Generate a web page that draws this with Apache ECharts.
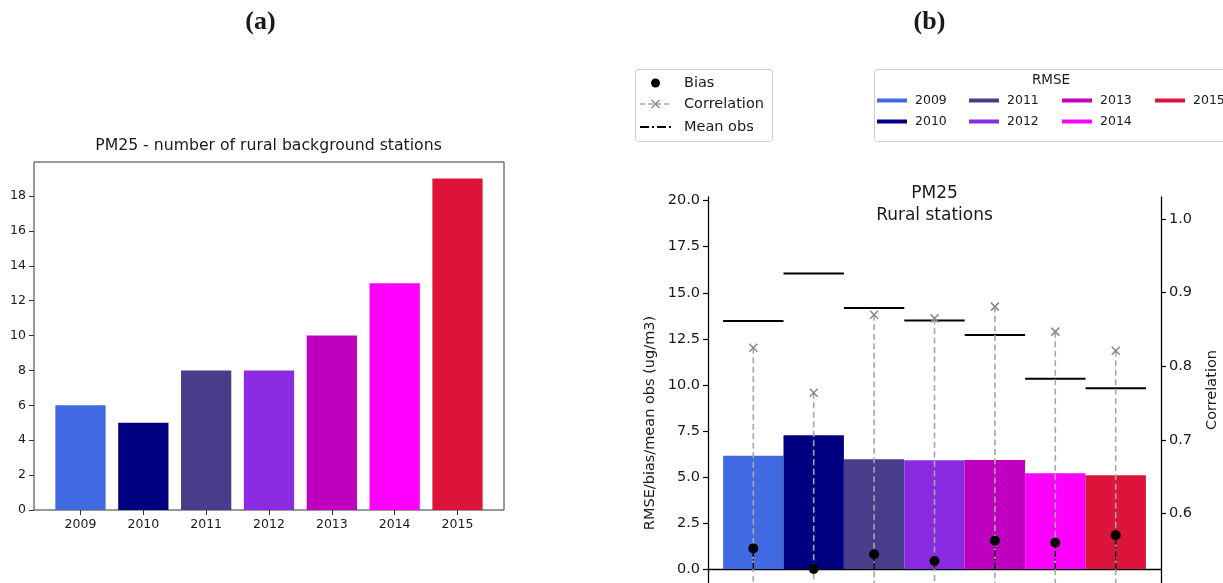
<!DOCTYPE html>
<html>
<head>
<meta charset="utf-8">
<script src="https://cdn.jsdelivr.net/npm/echarts@6/dist/echarts.min.js"></script>
<style>
  html, body { margin: 0; padding: 0; background: #fff; }
  #chart { width: 1223px; height: 583px; }
</style>
</head>
<body>
<div id="chart"></div>
<script>
// ---- data ----
const years = ['2009', '2010', '2011', '2012', '2013', '2014', '2015'];
const yearColors = ['#4169E1', '#000080', '#483D8B', '#8A2BE2', '#BF00BF', '#FF00FF', '#DC143C'];
const stationCounts = [6, 5, 8, 8, 10, 13, 19];
const rmse = [6.15, 7.26, 5.96, 5.90, 5.92, 5.20, 5.09];
const bias = [1.12, 0.0, 0.80, 0.43, 1.54, 1.43, 1.83];
const meanObs = [13.47, 16.04, 14.17, 13.50, 12.71, 10.33, 9.81];
const correlation = [0.825, 0.764, 0.870, 0.865, 0.881, 0.847, 0.821];
const countTicks = [0, 2, 4, 6, 8, 10, 12, 14, 16, 18];
const statTicks = [0, 2.5, 5, 7.5, 10, 12.5, 15, 17.5, 20];
const corrTicks = [0.6, 0.7, 0.8, 0.9, 1.0];
const yearPositions = years.map((_, i) => i);

// axis extents
const COUNT_MAX = 19.95;
const STAT_MIN = -4.344, STAT_MAX = 20.2;
const CORR_MIN = 0.4156, CORR_MAX = 1.03;

const FONT = '"DejaVu Sans", sans-serif';
const INK = '#1a1a1a';

const chart = echarts.init(document.getElementById('chart'));

function bandRect(api, i, v, half) {
  const p0 = api.coord([i - half, v]);
  const p1 = api.coord([i + half, 0]);
  return { x: p0[0], y: Math.min(p0[1], p1[1]), width: p1[0] - p0[0], height: Math.abs(p1[1] - p0[1]) };
}

// legend boxes drawn as graphics
function legendElements() {
  const els = [];
  // left legend: markers
  els.push({ type: 'rect', shape: { x: 635.5, y: 69.5, width: 137, height: 72, r: 3 },
    style: { fill: '#fff', stroke: '#cccccc', lineWidth: 1 } });
  const lx0 = 640, lx1 = 671, lmid = 655.5, tx = 684;
  const rowY = [83, 104, 127];
  els.push({ type: 'circle', shape: { cx: lmid, cy: rowY[0], r: 4.5 }, style: { fill: '#000' } });
  els.push({ type: 'line', shape: { x1: lx0, y1: rowY[1], x2: lx1, y2: rowY[1] },
    style: { stroke: '#a6a6a6', lineWidth: 1.5, lineDash: [5, 3] } });
  els.push({ type: 'line', shape: { x1: lmid - 4, y1: rowY[1] - 4, x2: lmid + 4, y2: rowY[1] + 4 },
    style: { stroke: '#888', lineWidth: 1.5 } });
  els.push({ type: 'line', shape: { x1: lmid - 4, y1: rowY[1] + 4, x2: lmid + 4, y2: rowY[1] - 4 },
    style: { stroke: '#888', lineWidth: 1.5 } });
  els.push({ type: 'line', shape: { x1: lx0, y1: rowY[2], x2: lx1, y2: rowY[2] },
    style: { stroke: '#000', lineWidth: 2, lineDash: [9, 3, 2, 3] } });
  ['Bias', 'Correlation', 'Mean obs'].forEach((t, k) => {
    els.push({ type: 'text', x: tx, y: rowY[k],
      style: { text: t, fill: INK, fontFamily: FONT, fontSize: 14.5, align: 'left', verticalAlign: 'middle' } });
  });

  // right legend: RMSE per year
  els.push({ type: 'rect', shape: { x: 874.5, y: 69.5, width: 380, height: 72, r: 3 },
    style: { fill: '#fff', stroke: '#cccccc', lineWidth: 1 } });
  els.push({ type: 'text', x: 1051, y: 80,
    style: { text: 'RMSE', fill: INK, fontFamily: FONT, fontSize: 13.5, align: 'center', verticalAlign: 'middle' } });
  const colX = [877, 969, 1062, 1155];
  const rY = [100.5, 121.5];
  years.forEach((y, i) => {
    const c = Math.floor(i / 2), r = i % 2;
    els.push({ type: 'line', shape: { x1: colX[c], y1: rY[r], x2: colX[c] + 30, y2: rY[r] },
      style: { stroke: yearColors[i], lineWidth: 4 } });
    els.push({ type: 'text', x: colX[c] + 38, y: rY[r],
      style: { text: y, fill: INK, fontFamily: FONT, fontSize: 12.5, align: 'left', verticalAlign: 'middle' } });
  });
  return els;
}

function textEl(x, y, text, font, rotation) {
  return { type: 'text', x, y, rotation: rotation || 0,
    style: { text, fill: INK, font, align: 'center', verticalAlign: 'middle' } };
}

const option = {
  animation: false,
  backgroundColor: '#fff',
  grid: [
    { left: 34, top: 162, width: 470, height: 348, show: true, borderColor: '#333', borderWidth: 1,
      backgroundColor: 'rgba(0,0,0,0)', outerBoundsMode: 'none', containLabel: false },
    { left: 708, top: 197, width: 453, height: 452, outerBoundsMode: 'none', containLabel: false }
  ],
  xAxis: [
    { gridIndex: 0, type: 'value', min: -0.74, max: 6.74,
      axisLine: { show: false }, splitLine: { show: false },
      axisTick: { show: true, length: 5, customValues: yearPositions, lineStyle: { color: '#333' } },
      axisLabel: { customValues: yearPositions, formatter: v => years[Math.round(v)],
        color: INK, fontFamily: FONT, fontSize: 12.5, margin: 8 } },
    { gridIndex: 1, type: 'value', min: -0.75, max: 6.75,
      axisLine: { show: true, onZero: true, onZeroAxisIndex: 1, lineStyle: { color: '#000', width: 1.3 } },
      axisTick: { show: false }, axisLabel: { show: false }, splitLine: { show: false } }
  ],
  yAxis: [
    { gridIndex: 0, type: 'value', min: 0, max: COUNT_MAX,
      axisLine: { show: false, onZero: false }, splitLine: { show: false },
      axisTick: { show: true, length: 5, customValues: countTicks, lineStyle: { color: '#333' } },
      axisLabel: { customValues: countTicks, color: INK, fontFamily: FONT, fontSize: 12.5, margin: 8 } },
    { gridIndex: 1, type: 'value', position: 'left', min: STAT_MIN, max: STAT_MAX,
      axisLine: { show: true, onZero: false, lineStyle: { color: '#000', width: 1.3 } }, splitLine: { show: false },
      axisTick: { show: true, length: 5, customValues: statTicks, lineStyle: { color: '#000', width: 1.2 } },
      axisLabel: { customValues: statTicks, formatter: v => v.toFixed(1),
        color: INK, fontFamily: FONT, fontSize: 14.5, margin: 8 } },
    { gridIndex: 1, type: 'value', position: 'right', min: CORR_MIN, max: CORR_MAX,
      axisLine: { show: true, onZero: false, lineStyle: { color: '#000', width: 1.3 } }, splitLine: { show: false },
      axisTick: { show: true, length: 5, customValues: corrTicks, lineStyle: { color: '#000', width: 1.2 } },
      axisLabel: { customValues: corrTicks, formatter: v => v.toFixed(1),
        color: INK, fontFamily: FONT, fontSize: 14.5, margin: 8 } }
  ],
  series: [
    // (a) station counts
    { type: 'custom', xAxisIndex: 0, yAxisIndex: 0,
      data: stationCounts.map((v, i) => [i, v]),
      renderItem: (params, api) => ({ type: 'rect', shape: bandRect(api, api.value(0), api.value(1), 0.4),
        style: { fill: yearColors[params.dataIndex] } }) },
    // (b) RMSE bars
    { type: 'custom', xAxisIndex: 1, yAxisIndex: 1,
      data: rmse.map((v, i) => [i, v]),
      renderItem: (params, api) => ({ type: 'rect', shape: bandRect(api, api.value(0), api.value(1), 0.5),
        style: { fill: yearColors[params.dataIndex] } }) },
    // (b) mean observations
    { type: 'custom', xAxisIndex: 1, yAxisIndex: 1,
      data: meanObs.map((v, i) => [i, v]),
      renderItem: (params, api) => {
        const i = api.value(0), m = api.value(1);
        const a = api.coord([i - 0.5, m]), b = api.coord([i + 0.5, m]);
        return { type: 'line', shape: { x1: a[0], y1: a[1], x2: b[0], y2: b[1] },
          style: { stroke: '#000', lineWidth: 2 } };
      } },
    // (b) correlation stems with x markers
    { type: 'custom', xAxisIndex: 1, yAxisIndex: 2,
      data: correlation.map((v, i) => [i, v]),
      renderItem: (params, api) => {
        const i = api.value(0), c = api.value(1);
        const base = api.coord([i, CORR_MIN]);
        const top = api.coord([i, c]);
        const s = 4;
        return { type: 'group', children: [
          { type: 'line', shape: { x1: top[0], y1: top[1], x2: base[0], y2: base[1] },
            style: { stroke: '#a6a6a6', lineWidth: 1.6, lineDash: [6, 3.5] } },
          { type: 'line', shape: { x1: top[0] - s, y1: top[1] - s, x2: top[0] + s, y2: top[1] + s },
            style: { stroke: '#888', lineWidth: 1.5 } },
          { type: 'line', shape: { x1: top[0] - s, y1: top[1] + s, x2: top[0] + s, y2: top[1] - s },
            style: { stroke: '#888', lineWidth: 1.5 } }
        ] };
      } },
    // (b) bias stems and dots
    { type: 'custom', xAxisIndex: 1, yAxisIndex: 1,
      data: bias.map((v, i) => [i, v]),
      renderItem: (params, api) => {
        const i = api.value(0), b = api.value(1);
        const p0 = api.coord([i, 0]), p1 = api.coord([i, b]);
        return { type: 'group', children: [
          { type: 'line', shape: { x1: p0[0], y1: p0[1], x2: p1[0], y2: p1[1] },
            style: { stroke: '#000', lineWidth: 1.5, lineDash: [6, 2.4, 1.5, 2.4] } },
          { type: 'circle', shape: { cx: p1[0], cy: p1[1], r: 5 }, style: { fill: '#000' } }
        ] };
      } }
  ],
  graphic: [
    textEl(260.5, 22, '(a)', 'bold 26px "Liberation Serif", serif'),
    textEl(929.5, 22, '(b)', 'bold 26px "Liberation Serif", serif'),
    textEl(268.5, 146, 'PM25 - number of rural background stations', '15.7px ' + FONT),
    textEl(934.5, 194, 'PM25', '17px ' + FONT),
    textEl(934.5, 216, 'Rural stations', '17px ' + FONT),
    textEl(650, 423, 'RMSE/bias/mean obs (ug/m3)', '14.5px ' + FONT, Math.PI / 2),
    textEl(1212, 390, 'Correlation', '14.5px ' + FONT, Math.PI / 2),
    ...legendElements()
  ]
};

chart.setOption(option);
</script>
</body>
</html>
